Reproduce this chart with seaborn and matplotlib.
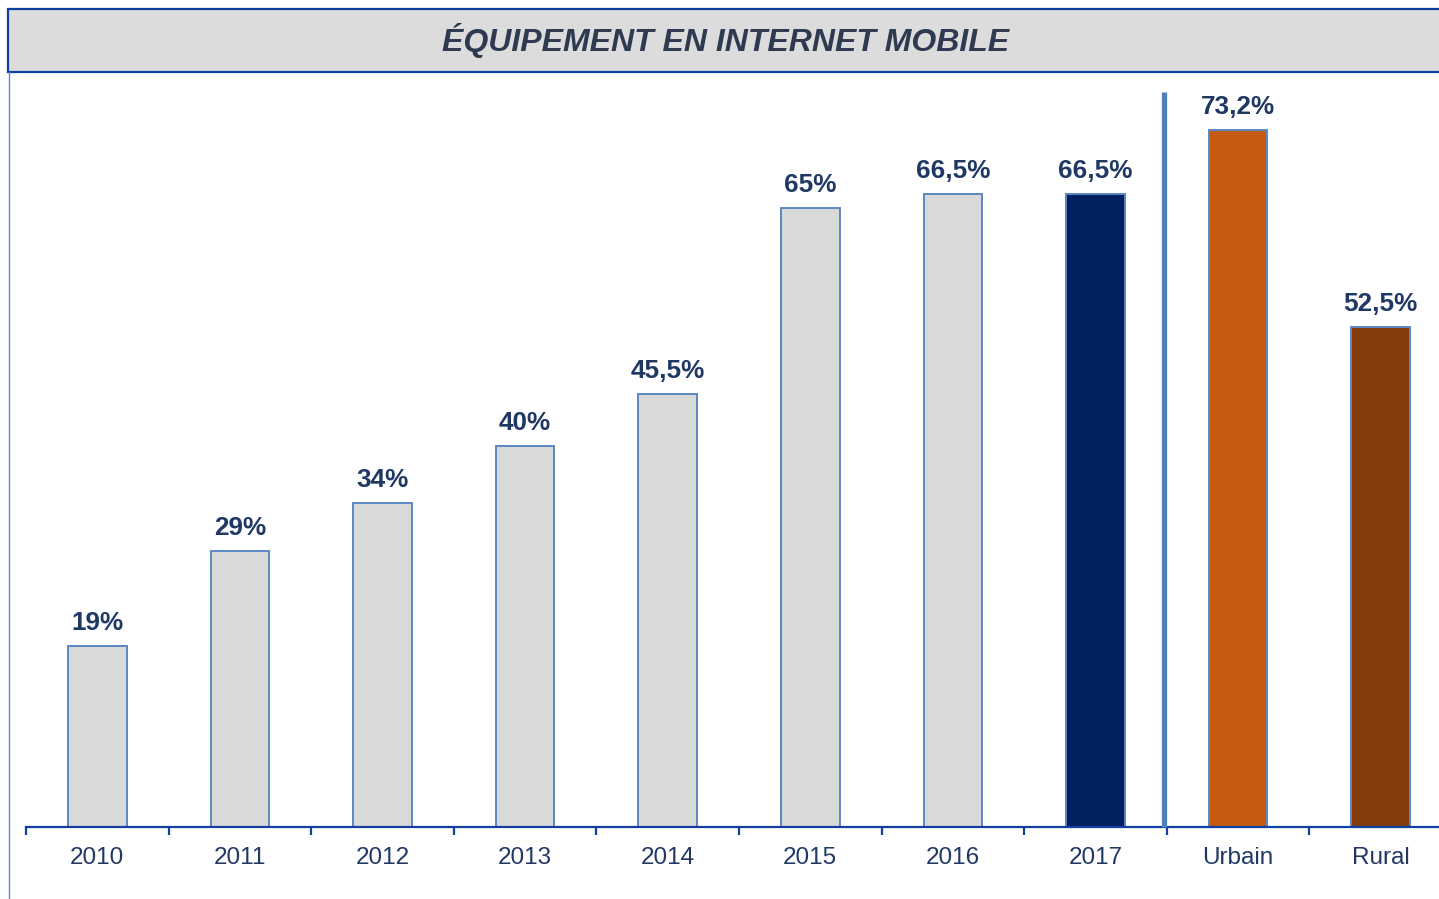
import matplotlib
matplotlib.use("Agg")
import matplotlib.pyplot as plt
from matplotlib.patches import Rectangle
from matplotlib.lines import Line2D
import seaborn as sns
import pandas as pd

categories = ["2010", "2011", "2012", "2013", "2014", "2015", "2016", "2017", "Urbain", "Rural"]
values = [19, 29, 34, 40, 45.5, 65, 66.5, 66.5, 73.2, 52.5]
value_labels = ["19%", "29%", "34%", "40%", "45,5%", "65%", "66,5%", "66,5%", "73,2%", "52,5%"]
bar_colors = ["#D9D9D9"] * 7 + ["#002060", "#C55A11", "#843C0C"]
title = "ÉQUIPEMENT EN INTERNET MOBILE"

sns.set_theme(style="white")
plt.rcParams["font.family"] = ["Liberation Sans", "DejaVu Sans"]

W, H = 1439, 899
fig = plt.figure(figsize=(W / 100, H / 100), dpi=100)
fig.patch.set_facecolor("white")

# axes: x from 26px spanning 10 categories of 142.6px; bottom at y=827px
ax = fig.add_axes([26 / W, (H - 827) / H, 1426 / W, 762 / H])
df = pd.DataFrame({"cat": categories, "val": values})
sns.barplot(data=df, x="cat", y="val", hue="cat", palette=bar_colors, order=categories,
            hue_order=categories, width=0.41, edgecolor="#5B87C5", linewidth=1.4,
            legend=False, ax=ax, saturation=1)
ax.set_xlim(-0.5, len(categories) - 0.5)
ax.set_ylim(0, 80)
ax.set_xlabel("")
ax.set_ylabel("")
ax.set_yticks([])
for s in ["left", "top", "right"]:
    ax.spines[s].set_visible(False)
ax.spines["bottom"].set_color("#1240A0")
ax.spines["bottom"].set_linewidth(1.6)

ax.set_xticks(range(len(categories)))
ax.set_xticklabels(categories, fontsize=17.5, color="#1F3864")
ax.tick_params(axis="x", which="major", length=0, pad=14.5)
ax.set_xticks([i - 0.5 for i in range(len(categories) + 1)], minor=True)
ax.tick_params(axis="x", which="minor", length=6, width=1.6, color="#1240A0", direction="out")
ax.xaxis.set_ticks_position("bottom")

for i, (v, lab) in enumerate(zip(values, value_labels)):
    ax.annotate(lab, (i, v), xytext=(0, 11.5), textcoords="offset points",
                ha="center", va="baseline", fontsize=18.8, fontweight="bold",
                color="#1F3864")

# separator between 2017 and Urbain
ax.plot([7.48, 7.48], [0, 77.2], color="#4F81BD", linewidth=3.8, solid_capstyle="butt",
        clip_on=False, zorder=5)

# title box
fig.patches.append(Rectangle((8 / W, (H - 72) / H), 1.2, 63 / H, transform=fig.transFigure,
                             facecolor="#DCDCDC", edgecolor="#0D3FA0", linewidth=1.6,
                             zorder=0))
fig.text(726 / W, (H - 41) / H, title, ha="center", va="center", fontsize=23,
         fontweight="bold", fontstyle="italic", color="#2E3A4F")

# thin left frame line
fig.add_artist(Line2D([8.5 / W, 8.5 / W], [0, (H - 72) / H], transform=fig.transFigure,
                      color="#5F86C8", linewidth=1.0))

fig.savefig("out.png", dpi=100)
